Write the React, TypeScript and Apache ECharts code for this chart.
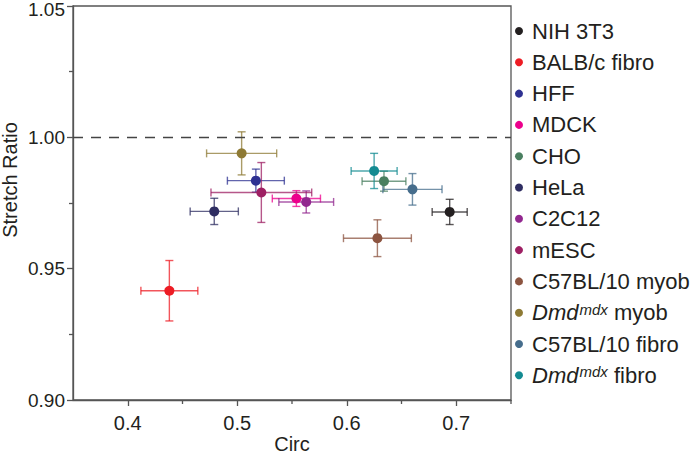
import React, { useEffect, useRef } from "react";
import * as echarts from "echarts";

const cellTypes = [
  "NIH 3T3",
  "BALB/c fibro",
  "HFF",
  "MDCK",
  "CHO",
  "HeLa",
  "C2C12",
  "mESC",
  "C57BL/10 myob",
  "Dmd^mdx myob",
  "C57BL/10 fibro",
  "Dmd^mdx fibro",
];
const circ = [0.694, 0.438, 0.517, 0.554, 0.634, 0.479, 0.563, 0.522, 0.628, 0.504, 0.66, 0.625];
const circErr = [0.016, 0.026, 0.026, 0.022, 0.02, 0.022, 0.025, 0.046, 0.031, 0.032, 0.027, 0.021];
const stretchRatio = [0.9716, 0.9416, 0.9835, 0.9767, 0.9833, 0.9718, 0.9754, 0.979, 0.9616, 0.9939, 0.9802, 0.9872];
const stretchErr = [0.0048, 0.0115, 0.0044, 0.003, 0.0038, 0.005, 0.0042, 0.0114, 0.007, 0.0082, 0.006, 0.0067];
const colors = [
  "#231f20",
  "#ed1c24",
  "#2e3192",
  "#ec008c",
  "#4a7f60",
  "#2e2d62",
  "#92278f",
  "#9e1f63",
  "#8c5440",
  "#8e7a34",
  "#466d8c",
  "#138b92",
];
const yTicks = [0.9, 0.95, 1.0, 1.05];
const xMajorTicks = [0.4, 0.5, 0.6, 0.7];
const xMinorTicks = [0.45, 0.55, 0.65, 0.75];
const referenceLine = 1.0;

const FONT = "'Liberation Sans', Arial, Helvetica, sans-serif";
const TEXT = "#231f20";
const AXIS = "#555555";

export default function App() {
  const ref = useRef<HTMLDivElement>(null);
  useEffect(() => {
    if (!ref.current) return;
    const chart = echarts.init(ref.current, null, { renderer: "svg" });

    const errData = cellTypes.map((_, i) => [circ[i], stretchRatio[i], circErr[i], stretchErr[i], i]);
    const minorTickData = xMinorTicks.map((v) => [v, yTicks[0]]);
    const yMax = yTicks[yTicks.length - 1];

    const scatterSeries = cellTypes.map((name, i) => ({
      type: "scatter",
      name,
      symbol: "circle",
      symbolSize: 10,
      itemStyle: { color: colors[i], opacity: 1 },
      data: [[circ[i], stretchRatio[i]]],
      z: 5,
    }));

    const option: any = {
      animation: false,
      textStyle: { fontFamily: FONT },
      grid: {
        left: 73,
        right: 189,
        top: 6,
        bottom: 54,
        containLabel: false,
        outerBoundsMode: "none",
        show: true,
        borderColor: AXIS,
        borderWidth: 1.3,
      },
      legend: {
        orient: "vertical",
        left: 515,
        top: 20,
        padding: 0,
        itemGap: 9.3,
        itemWidth: 16,
        itemHeight: 8,
        icon: "circle",
        data: cellTypes,
        formatter: (name: string) => {
          if (name.indexOf("^") >= 0) {
            const [base, rest] = name.split("^");
            const sp = rest.indexOf(" ");
            const sup = rest.slice(0, sp);
            const tail = rest.slice(sp);
            return `{i|${base}}{sup|${sup}}{n|${tail}}`;
          }
          return `{n|${name}}`;
        },
        textStyle: {
          fontFamily: FONT,
          fontSize: 22,
          color: TEXT,
          lineHeight: 22,
          rich: {
            n: { fontFamily: FONT, fontSize: 22, color: TEXT, lineHeight: 22 },
            i: { fontFamily: FONT, fontSize: 22, color: TEXT, lineHeight: 22, fontStyle: "italic" },
            sup: { fontFamily: FONT, fontSize: 15, color: TEXT, fontStyle: "italic", verticalAlign: "top", padding: [0, 0, 0, 1] },
          },
        },
      },
      xAxis: {
        type: "value",
        min: 0.35,
        max: 0.75,
        name: "Circ",
        nameLocation: "middle",
        nameGap: 34,
        nameMoveOverlap: false,
        nameTextStyle: { fontFamily: FONT, fontSize: 20, color: TEXT, lineHeight: 20 },
        axisLine: { show: true, onZero: false, lineStyle: { color: AXIS, width: 1.3 } },
        axisTick: { show: true, length: 6, customValues: xMajorTicks, lineStyle: { color: AXIS, width: 1.3 } },
        axisLabel: {
          show: true,
          customValues: xMajorTicks,
          margin: 13,
          fontFamily: FONT,
          fontSize: 20,
          color: TEXT,
          formatter: (v: number) => v.toFixed(1),
        },
        splitLine: { show: false },
      },
      yAxis: {
        type: "value",
        min: yTicks[0],
        max: yMax,
        interval: 0.05,
        name: "Stretch Ratio",
        nameLocation: "middle",
        nameGap: 53,
        nameMoveOverlap: false,
        nameTextStyle: { fontFamily: FONT, fontSize: 20, color: TEXT, lineHeight: 20, padding: [0, 0, 0, 46] },
        axisLine: { show: true, onZero: false, lineStyle: { color: AXIS, width: 1.3 } },
        axisTick: { show: true, length: 6, lineStyle: { color: AXIS, width: 1.3 } },
        minorTick: { show: true, splitNumber: 2, length: 4, lineStyle: { color: AXIS, width: 1.3 } },
        axisLabel: {
          margin: 8,
          fontFamily: FONT,
          fontSize: 19,
          lineHeight: 14,
          color: TEXT,
          formatter: (v: number) =>
            Math.abs(v - yMax) < 1e-9 ? `{top|${v.toFixed(2)}}` : v.toFixed(2),
          rich: {
            top: { fontFamily: FONT, fontSize: 19, lineHeight: 14, color: TEXT, padding: [7, 0, 0, 0] },
          },
        },
        splitLine: { show: false },
      },
      series: [
        {
          type: "custom",
          name: "errorbars",
          data: errData,
          encode: { x: 0, y: 1 },
          z: 2,
          silent: true,
          renderItem: (params: any, api: any) => {
            const x = api.value(0);
            const y = api.value(1);
            const ex = api.value(2);
            const ey = api.value(3);
            const ci = api.value(4);
            const c = api.coord([x, y]);
            const l = api.coord([x - ex, y]);
            const r = api.coord([x + ex, y]);
            const t = api.coord([x, y + ey]);
            const b = api.coord([x, y - ey]);
            const cap = 4;
            const style = { stroke: colors[ci], lineWidth: 1.4, opacity: 0.75 };
            const ln = (x1: number, y1: number, x2: number, y2: number) => ({
              type: "line",
              shape: { x1, y1, x2, y2 },
              style,
            });
            return {
              type: "group",
              children: [
                ln(l[0], c[1], r[0], c[1]),
                ln(l[0], c[1] - cap, l[0], c[1] + cap),
                ln(r[0], c[1] - cap, r[0], c[1] + cap),
                ln(c[0], t[1], c[0], b[1]),
                ln(c[0] - cap, t[1], c[0] + cap, t[1]),
                ln(c[0] - cap, b[1], c[0] + cap, b[1]),
              ],
            };
          },
          markLine: {
            silent: true,
            symbol: "none",
            label: { show: false },
            lineStyle: { color: "#444444", type: [10, 8], width: 1.4 },
            data: [{ yAxis: referenceLine }],
          },
        },
        {
          type: "custom",
          name: "xMinorTicks",
          data: minorTickData,
          encode: { x: 0, y: 1 },
          clip: false,
          silent: true,
          z: 3,
          renderItem: (params: any, api: any) => {
            const p = api.coord([api.value(0), api.value(1)]);
            return {
              type: "line",
              shape: { x1: p[0], y1: p[1], x2: p[0], y2: p[1] + 4 },
              style: { stroke: AXIS, lineWidth: 1.3 },
            };
          },
        },
        ...scatterSeries,
      ],
    };
    chart.setOption(option);

    return () => chart.dispose();
  }, []);

  return (
    <div
      ref={ref}
      style={{ position: "fixed", left: 0, top: 0, width: 700, height: 454, background: "#ffffff" }}
    />
  );
}
